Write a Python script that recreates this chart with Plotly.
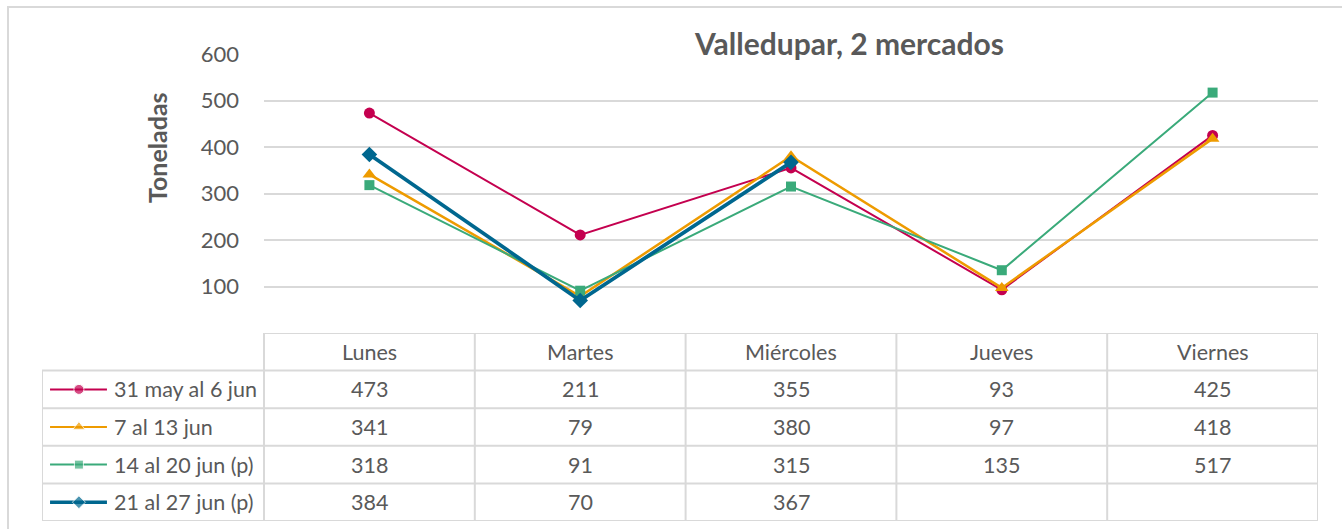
import plotly.graph_objects as go

# ---------------- data ----------------
days = ["Lunes", "Martes", "Miércoles", "Jueves", "Viernes"]
series_names = ["31 may al 6 jun", "7 al 13 jun", "14 al 20 jun (p)", "21 al 27 jun (p)"]
s1 = [473, 211, 355, 93, 425]
s2 = [341, 79, 380, 97, 418]
s3 = [318, 91, 315, 135, 517]
s4 = [384, 70, 367, None, None]
y_ticks = [100, 200, 300, 400, 500, 600]
title_text = "Valledupar, 2 mercados"
y_title = "Toneladas"

# ---------------- styles ----------------
W, H = 1342, 529
colors = ["#C4004F", "#EE9B00", "#3AAA7A", "#00678F"]
symbols = ["circle", "triangle-up", "square", "diamond"]
line_w = [2, 2.5, 2, 3.75]
mk_size = [11, 12, 10, 12]
leg_mk = [10, 11, 9, 10]
leg_w = [2, 2, 2, 3.5]
FONT = "Lato"
TXT = "#595959"
GRID = "#D9D9D9"


def fx(px):
    return px / W


def fy(py):
    return 1 - py / H


all_series = [s1, s2, s3, s4]
fig = go.Figure()

# main line chart
for name, vals, c, sym, lw, ms in zip(series_names, all_series, colors, symbols, line_w, mk_size):
    fig.add_trace(go.Scatter(
        x=list(range(len(days))), y=vals, name=name, mode="lines+markers",
        line=dict(color=c, width=lw), marker=dict(symbol=sym, size=ms, color=c),
        connectgaps=False, showlegend=False, xaxis="x", yaxis="y",
        hoverinfo="skip"))

# table geometry in table-axis units: day column i spans [i, i+1], label column [-L, 0]
L = 222 / 210.8
n_rows = len(series_names) + 1

# legend keys in the table
for r, (c, sym, lw, ms) in enumerate(zip(colors, symbols, leg_w, leg_mk), start=1):
    fig.add_trace(go.Scatter(
        x=[-1.015, -0.878, -0.745], y=[r + 0.5] * 3, mode="lines+markers",
        line=dict(color=c, width=lw), marker=dict(symbol=sym, size=[0, ms, 0], color=c),
        showlegend=False, xaxis="x2", yaxis="y2", hoverinfo="skip"))

shapes = []
# table horizontal lines
shapes.append(dict(type="line", xref="x2", yref="y2", x0=0, x1=len(days), y0=0, y1=0,
                   line=dict(color=GRID, width=2)))
for r in range(1, n_rows + 1):
    shapes.append(dict(type="line", xref="x2", yref="y2", x0=-L, x1=len(days), y0=r, y1=r,
                       line=dict(color=GRID, width=2)))
# table vertical lines
shapes.append(dict(type="line", xref="x2", yref="y2", x0=-L, x1=-L, y0=1, y1=n_rows,
                   line=dict(color=GRID, width=2)))
for i in range(len(days) + 1):
    shapes.append(dict(type="line", xref="x2", yref="y2", x0=i, x1=i, y0=0, y1=n_rows,
                       line=dict(color=GRID, width=2)))
# outer chart border
shapes.append(dict(type="rect", xref="paper", yref="paper", x0=fx(8), x1=fx(1360), y0=fy(560), y1=fy(7),
                   line=dict(color=GRID, width=2), layer="below"))

annotations = []
tfont = dict(family=FONT, size=21.5, color=TXT)
for i, d in enumerate(days):
    annotations.append(dict(x=i + 0.5, y=0.5, xref="x2", yref="y2", text=d, showarrow=False,
                            font=tfont, xanchor="center", yanchor="middle"))
for r, (name, vals) in enumerate(zip(series_names, all_series), start=1):
    annotations.append(dict(x=-0.72, y=r + 0.5, xref="x2", yref="y2", text=name, showarrow=False,
                            font=tfont, xanchor="left", yanchor="middle"))
    for i, v in enumerate(vals):
        if v is not None:
            annotations.append(dict(x=i + 0.5, y=r + 0.5, xref="x2", yref="y2", text=str(v),
                                    showarrow=False, font=tfont, xanchor="center", yanchor="middle"))

annotations.append(dict(x=fx(849), y=fy(43), xref="paper", yref="paper", text="<b>" + title_text + "</b>",
                        showarrow=False, font=dict(family=FONT, size=30, color=TXT),
                        xanchor="center", yanchor="middle"))
annotations.append(dict(x=fx(157), y=fy(148), xref="paper", yref="paper", text="<b>" + y_title + "</b>",
                        showarrow=False, textangle=-90, font=dict(family=FONT, size=25, color=TXT),
                        xanchor="center", yanchor="middle"))

fig.update_layout(
    template="none",
    width=W, height=H, autosize=False, margin=dict(l=0, r=0, t=0, b=0, pad=0),
    paper_bgcolor="white", plot_bgcolor="white",
    xaxis=dict(domain=[fx(264), fx(1318)], range=[-0.5, len(days) - 0.5], showticklabels=False,
               showgrid=False, zeroline=False, showline=False, ticks="", automargin=False),
    yaxis=dict(domain=[fy(333), fy(54)], range=[0, 600], tickvals=y_ticks, showgrid=True,
               gridcolor=GRID, gridwidth=2, zeroline=False, showline=False, automargin=False,
               tickfont=dict(family=FONT, size=22, color=TXT), ticks="", ticklabelstandoff=24),
    xaxis2=dict(domain=[fx(42), fx(1318)], range=[-L, len(days)], visible=False, anchor="y2",
                automargin=False),
    yaxis2=dict(domain=[fy(521), fy(333)], range=[n_rows, 0], visible=False, anchor="x2",
                automargin=False),
    shapes=shapes, annotations=annotations,
)

fig.write_html(
    "out.html",
    config={"displayModeBar": False},
    post_script="document.body.style.margin='0';document.body.style.padding='0';"
                "document.body.style.overflow='hidden';"
                "document.documentElement.style.overflow='hidden';",
)
